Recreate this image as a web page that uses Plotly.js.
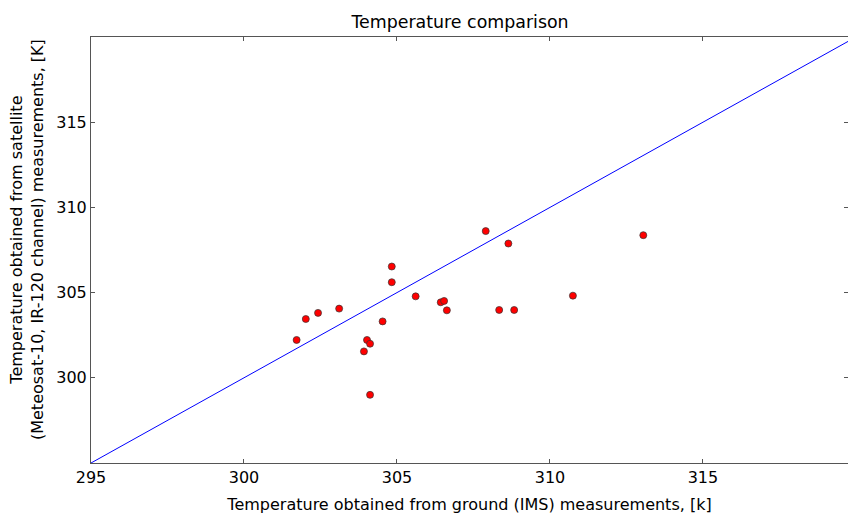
<!DOCTYPE html>
<html><head><meta charset="utf-8">
<script src="https://cdn.plot.ly/plotly-3.0.1.min.js"></script>
<style>html,body{margin:0;padding:0;background:#fff}</style>
</head><body>
<div id="chart" style="width:848px;height:514px"></div>
<script>
const groundTemp = [301.72, 302.02, 302.42, 303.11, 304.83, 304.83, 305.61, 306.43, 306.54, 306.63, 304.53, 304.02, 304.12, 303.92, 304.12, 307.90, 308.64, 313.05, 310.75, 308.34, 308.83];
const satelliteTemp = [302.22, 303.45, 303.81, 304.06, 306.53, 305.61, 304.78, 304.43, 304.51, 303.96, 303.31, 302.22, 302.0, 301.55, 299.0, 308.61, 307.88, 308.37, 304.82, 303.98, 303.98];
const refLineX = [295, 320];
const refLineY = [295, 320];
const xTicks = [295, 300, 305, 310, 315];
const yTicks = [300, 305, 310, 315];

const font = 'DejaVu Sans, sans-serif';
const axisCommon = {
  showgrid: false, zeroline: false, showline: true, linecolor: '#555', linewidth: 1,
  mirror: 'ticks', ticks: 'inside', ticklen: 4, tickcolor: '#555', tickwidth: 1,
  tickfont: {family: font, size: 16, color: '#000'}, tickmode: 'array'
};
Plotly.newPlot('chart', [
  {x: refLineX, y: refLineY, mode: 'lines', line: {color: '#0000ff', width: 1}, hoverinfo: 'skip'},
  {x: groundTemp, y: satelliteTemp, mode: 'markers',
   marker: {color: '#ff0000', size: 7, line: {color: '#333', width: 0.7}}}
], {
  width: 848, height: 514, showlegend: false,
  paper_bgcolor: '#fff', plot_bgcolor: '#fff',
  margin: {l: 91, r: 0, t: 37, b: 51},
  title: {text: 'Temperature comparison', font: {family: font, size: 17.4, color: '#000'}, xref: 'paper', x: 0.4875, xanchor: 'center', y: 0.958, yanchor: 'middle'},
  xaxis: Object.assign({}, axisCommon, {range: [295, 319.74], tickvals: xTicks, ticktext: xTicks.map(String),
    title: {text: 'Temperature obtained from ground (IMS) measurements, [k]', font: {family: font, size: 16, color: '#000'}, standoff: 12}}),
  yaxis: Object.assign({}, axisCommon, {range: [295, 320], tickvals: yTicks, ticktext: yTicks.map(String)}),
  annotations: [{
    text: 'Temperature obtained from satellite<br>(Meteosat-10, IR-120 channel) measurements, [K]',
    xref: 'paper', yref: 'paper', x: -0.0845, y: 0.5235, xanchor: 'center', yanchor: 'middle',
    textangle: -90, showarrow: false, font: {family: font, size: 16, color: '#000'}
  }]
}, {staticPlot: true});
</script>
</body></html>
